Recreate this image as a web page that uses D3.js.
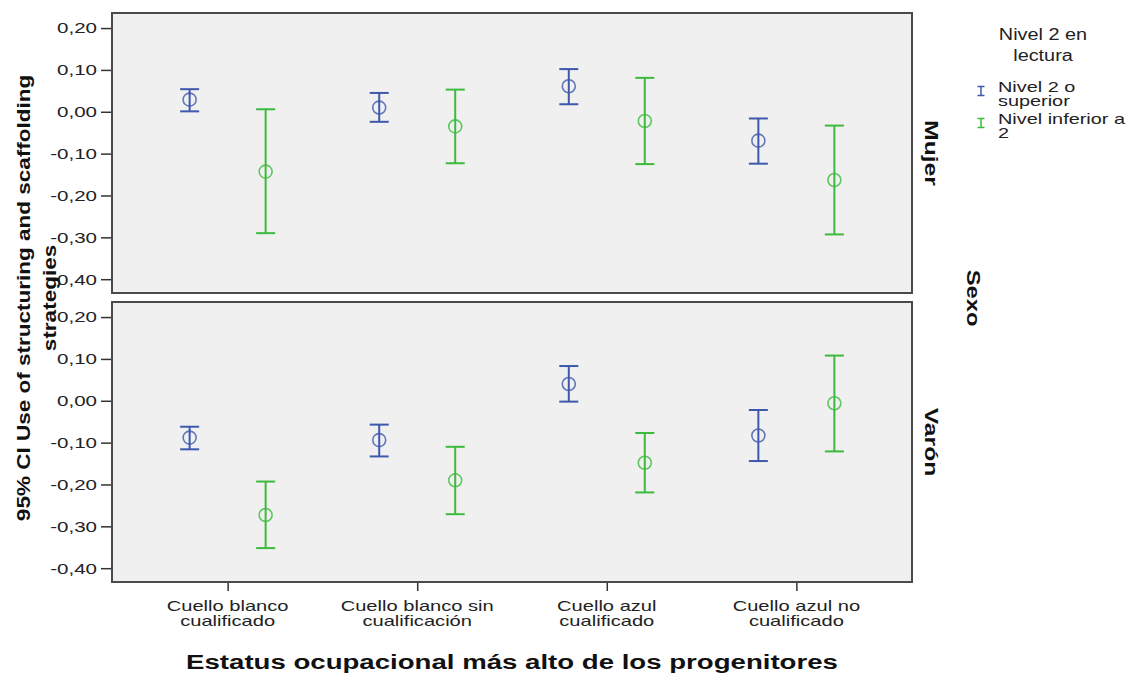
<!DOCTYPE html>
<html>
<head>
<meta charset="utf-8">
<script src="https://cdn.jsdelivr.net/npm/d3@7"></script>
<style>
  body { margin: 0; background: #fff; }
  svg { font-family: "Liberation Sans", Arial, sans-serif; }
</style>
</head>
<body>
<svg id="chart" width="1131" height="673"></svg>
<script>
// Data
const categories = [
  ["Cuello blanco", "cualificado"],
  ["Cuello blanco sin", "cualificación"],
  ["Cuello azul", "cualificado"],
  ["Cuello azul no", "cualificado"],
];
const groups = ["Nivel 2 o superior", "Nivel inferior a 2"];
const groupLegend = [["Nivel 2 o", "superior"], ["Nivel inferior a", "2"]];
const panels = ["Mujer", "Varón"];
const yTicks = [0.2, 0.1, 0, -0.1, -0.2, -0.3, -0.4];

// Mujer
const mujerSupMean = [0.029, 0.010, 0.061, -0.069];
const mujerSupLow = [0.001, -0.024, 0.018, -0.124];
const mujerSupHigh = [0.054, 0.045, 0.102, -0.016];
const mujerInfMean = [-0.143, -0.035, -0.022, -0.163];
const mujerInfLow = [-0.290, -0.123, -0.125, -0.293];
const mujerInfHigh = [0.006, 0.053, 0.081, -0.033];
// Varón
const varonSupMean = [-0.088, -0.094, 0.040, -0.083];
const varonSupLow = [-0.116, -0.133, -0.002, -0.144];
const varonSupHigh = [-0.062, -0.057, 0.083, -0.022];
const varonInfMean = [-0.273, -0.190, -0.148, -0.006];
const varonInfLow = [-0.352, -0.271, -0.219, -0.121];
const varonInfHigh = [-0.193, -0.110, -0.077, 0.108];

const series = [
  [
    { mean: mujerSupMean, low: mujerSupLow, high: mujerSupHigh },
    { mean: mujerInfMean, low: mujerInfLow, high: mujerInfHigh },
  ],
  [
    { mean: varonSupMean, low: varonSupLow, high: varonSupHigh },
    { mean: varonInfMean, low: varonInfLow, high: varonInfHigh },
  ],
];

const colors = ["#3e58ac", "#3dba3d"];

// Layout
const left = 112, right = 912;
const panelBoxes = [
  { top: 13, bottom: 293 },
  { top: 302, bottom: 582 },
];

const locale = d3.formatLocale({
  decimal: ",", thousands: ".", grouping: [3], currency: ["", "€"], minus: "-",
});
const fmt = locale.format(".2f");

// the source renders its text horizontally stretched
const stretch = (sel, k) =>
  sel.each(function () {
    const w = this.getComputedTextLength();
    d3.select(this).attr("textLength", w * k).attr("lengthAdjust", "spacingAndGlyphs");
  });

const svg = d3.select("#chart");

const x = d3
  .scalePoint()
  .domain(categories.map((d) => d.join(" ")))
  .range([left, right])
  .padding(0.61);

const xSub = d3.scalePoint().domain(groups).range([-38, 38]);

panelBoxes.forEach((box, p) => {
  const y = d3.scaleLinear().domain([-0.433, 0.236]).range([box.bottom, box.top]);

  svg
    .append("rect")
    .attr("x", left)
    .attr("y", box.top)
    .attr("width", right - left)
    .attr("height", box.bottom - box.top)
    .style("fill", "#f0f0f0")
    .style("stroke", "#4a4a4a")
    .style("stroke-width", 2);

  const yAxis = svg
    .append("g")
    .attr("transform", `translate(${left - 1},0)`)
    .call(d3.axisLeft(y).tickValues(yTicks).tickFormat(fmt).tickSize(10).tickPadding(4));
  yAxis.select(".domain").remove();
  yAxis.selectAll(".tick line").style("stroke", "#333").style("stroke-width", 1.5);
  yAxis
    .selectAll(".tick text")
    .style("font-size", "15px")
    .style("fill", "#222")
    .style("font-family", "Liberation Sans, Arial, sans-serif")
    .call(stretch, 1.37);

  // error bars
  series[p].forEach((s, g) => {
    const gx = (i) => x(categories[i].join(" ")) + xSub(groups[g]);
    const bars = svg
      .append("g")
      .selectAll("g")
      .data(s.mean.map((m, i) => ({ i, m, lo: s.low[i], hi: s.high[i] })))
      .join("g")
      .style("stroke", colors[g])
      .style("fill", "none");

    bars
      .append("line")
      .attr("x1", (d) => gx(d.i))
      .attr("x2", (d) => gx(d.i))
      .attr("y1", (d) => y(d.lo))
      .attr("y2", (d) => y(d.hi))
      .style("stroke-width", 2);
    bars
      .selectAll("line.cap")
      .data((d) => [d.lo, d.hi].map((v) => ({ i: d.i, v })))
      .join("line")
      .attr("class", "cap")
      .attr("x1", (d) => gx(d.i) - 9.5)
      .attr("x2", (d) => gx(d.i) + 9.5)
      .attr("y1", (d) => y(d.v))
      .attr("y2", (d) => y(d.v))
      .style("stroke-width", 2);
    bars
      .append("circle")
      .attr("cx", (d) => gx(d.i))
      .attr("cy", (d) => y(d.m))
      .attr("r", 6.5)
      .style("stroke-width", 1.6)
      .style("stroke-opacity", 0.8);
  });

  // strip label
  svg
    .append("text")
    .attr("transform", `translate(925,${(box.top + box.bottom) / 2}) rotate(90)`)
    .attr("text-anchor", "middle")
    .style("font-size", "19px")
    .style("font-weight", "bold")
    .style("fill", "#111")
    .text(panels[p])
    .call(stretch, 1.3);
});

// x axis
const xAxis = svg
  .append("g")
  .attr("transform", `translate(0,${panelBoxes[1].bottom + 1})`)
  .call(d3.axisBottom(x).tickSize(8).tickFormat(""));
xAxis.select(".domain").remove();
xAxis.selectAll(".tick line").style("stroke", "#333").style("stroke-width", 1.5);

const catLabels = svg
  .append("g")
  .selectAll("g")
  .data(categories)
  .join("g")
  .attr("transform", (d) => `translate(${x(d.join(" "))},0)`);
catLabels
  .selectAll("text")
  .data((d) => d)
  .join("text")
  .attr("y", (d, i) => 611 + i * 15)
  .attr("text-anchor", "middle")
  .style("font-size", "15px")
  .style("fill", "#222")
  .text((d) => d)
  .call(stretch, 1.34);

svg
  .append("text")
  .attr("x", 512)
  .attr("y", 669)
  .attr("text-anchor", "middle")
  .style("font-size", "20px")
  .style("font-weight", "bold")
  .style("fill", "#111")
  .text("Estatus ocupacional más alto de los progenitores")
  .call(stretch, 1.38);

// y title
svg
  .append("g")
  .attr("transform", "translate(0,298) rotate(-90)")
  .selectAll("text")
  .data(["95% CI Use of structuring and scaffolding", "strategies"])
  .join("text")
  .attr("y", (d, i) => 30 + i * 26)
  .attr("text-anchor", "middle")
  .style("font-size", "18px")
  .style("font-weight", "bold")
  .style("fill", "#111")
  .text((d) => d)
  .call(stretch, 1.25);

// facet title
svg
  .append("text")
  .attr("transform", "translate(967,298) rotate(90)")
  .attr("text-anchor", "middle")
  .style("font-size", "19px")
  .style("font-weight", "bold")
  .style("fill", "#111")
  .text("Sexo")
  .call(stretch, 1.25);

// legend
const legend = svg.append("g");
legend
  .selectAll("text.title")
  .data(["Nivel 2 en", "lectura"])
  .join("text")
  .attr("class", "title")
  .attr("x", 1043)
  .attr("y", (d, i) => 40 + i * 21)
  .attr("text-anchor", "middle")
  .style("font-size", "16px")
  .style("fill", "#222")
  .text((d) => d)
  .call(stretch, 1.24);

const items = legend
  .selectAll("g.item")
  .data(groups)
  .join("g")
  .attr("class", "item")
  .attr("transform", (d, i) => `translate(981,${91 + i * 32})`);
items.each(function (d, i) {
  const g = d3.select(this).append("g").style("stroke", colors[i]).style("stroke-width", 1.5);
  g.append("line").attr("y1", -4.5).attr("y2", 4.5);
  g.append("line").attr("x1", -3.5).attr("x2", 3.5).attr("y1", -4.5).attr("y2", -4.5);
  g.append("line").attr("x1", -3.5).attr("x2", 3.5).attr("y1", 4.5).attr("y2", 4.5);
});
items
  .selectAll("text")
  .data((d, i) => groupLegend[i])
  .join("text")
  .attr("x", 17)
  .attr("y", (d, i) => 1 + i * 14)
  .style("font-size", "14.5px")
  .style("fill", "#222")
  .text((d) => d)
  .call(stretch, 1.37);
</script>
</body>
</html>
